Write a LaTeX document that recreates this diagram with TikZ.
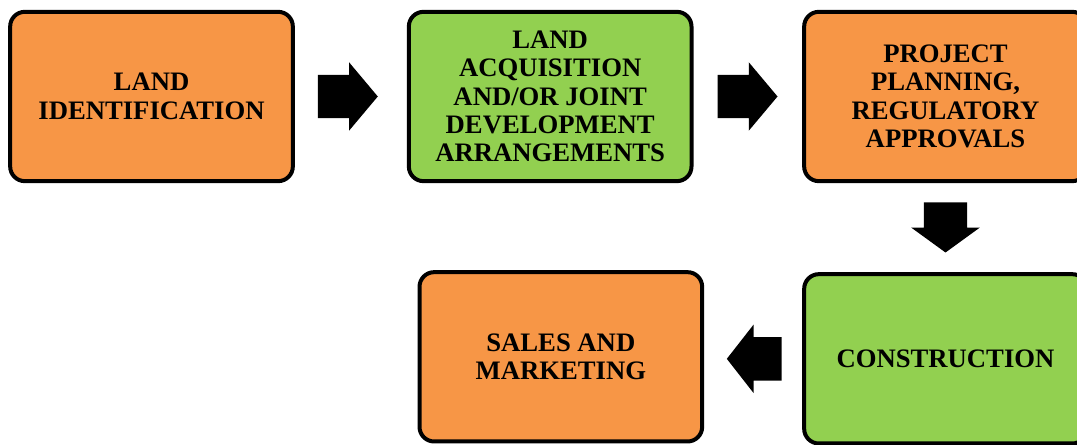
\documentclass[tikz,border=0pt]{standalone}
\usepackage{fontspec}
\setmainfont{Liberation Serif}
\usepackage{tikz}
\usetikzlibrary{positioning, calc, shapes.arrows}
\definecolor{stepOrange}{HTML}{F79646}
\definecolor{stepGreen}{HTML}{92D050}
\tikzstyle{stepbox} =[draw=black, line width=3pt, rounded corners=11pt, minimum width=212pt, minimum height=127pt, align=center, text=black, font=\fontsize{20}{21.25}\selectfont\bfseries]
\tikzstyle{blockarrow} =[single arrow, draw=none, fill=black, inner xsep=0pt, inner ysep=16.1pt, single arrow head extend=9.4pt, single arrow tip angle=100, minimum height=45pt]

\begin{document}
\begin{tikzpicture}[x=0.75pt, y=0.75pt]
\useasboundingbox (0,0) rectangle (1077,445);

\node (landId) [stepbox, fill=stepOrange] at (151.5,348.5) {LAND\\IDENTIFICATION};

\node (landAcq) [stepbox, fill=stepGreen, right=84pt of landId] {LAND\\ACQUISITION\\AND/OR JOINT\\DEVELOPMENT\\ARRANGEMENTS};

\node (planning) [stepbox, fill=stepOrange, right=81.5pt of landAcq] {PROJECT\\PLANNING,\\REGULATORY\\APPROVALS};

\node (constr) [stepbox, fill=stepGreen, below=66.75pt of planning] {CONSTRUCTION};

\node (sales) [stepbox, fill=stepOrange, left=73.5pt of constr, yshift=1.5pt] {SALES AND\\MARKETING};

%arrows
\node (arrA) [blockarrow, right=17pt of landId] {};
\node (arrB) [blockarrow, right=17.8pt of landAcq] {};
\node (arrC) [blockarrow, shape border rotate=270, inner xsep=16.1pt, inner ysep=0pt, minimum height=37.5pt, single arrow tip angle=108, below=14.3pt of planning] {};
\node (arrD) [blockarrow, shape border rotate=180, minimum height=41pt, single arrow tip angle=104, left=15.3pt of constr] {};

\end{tikzpicture}
\end{document}
